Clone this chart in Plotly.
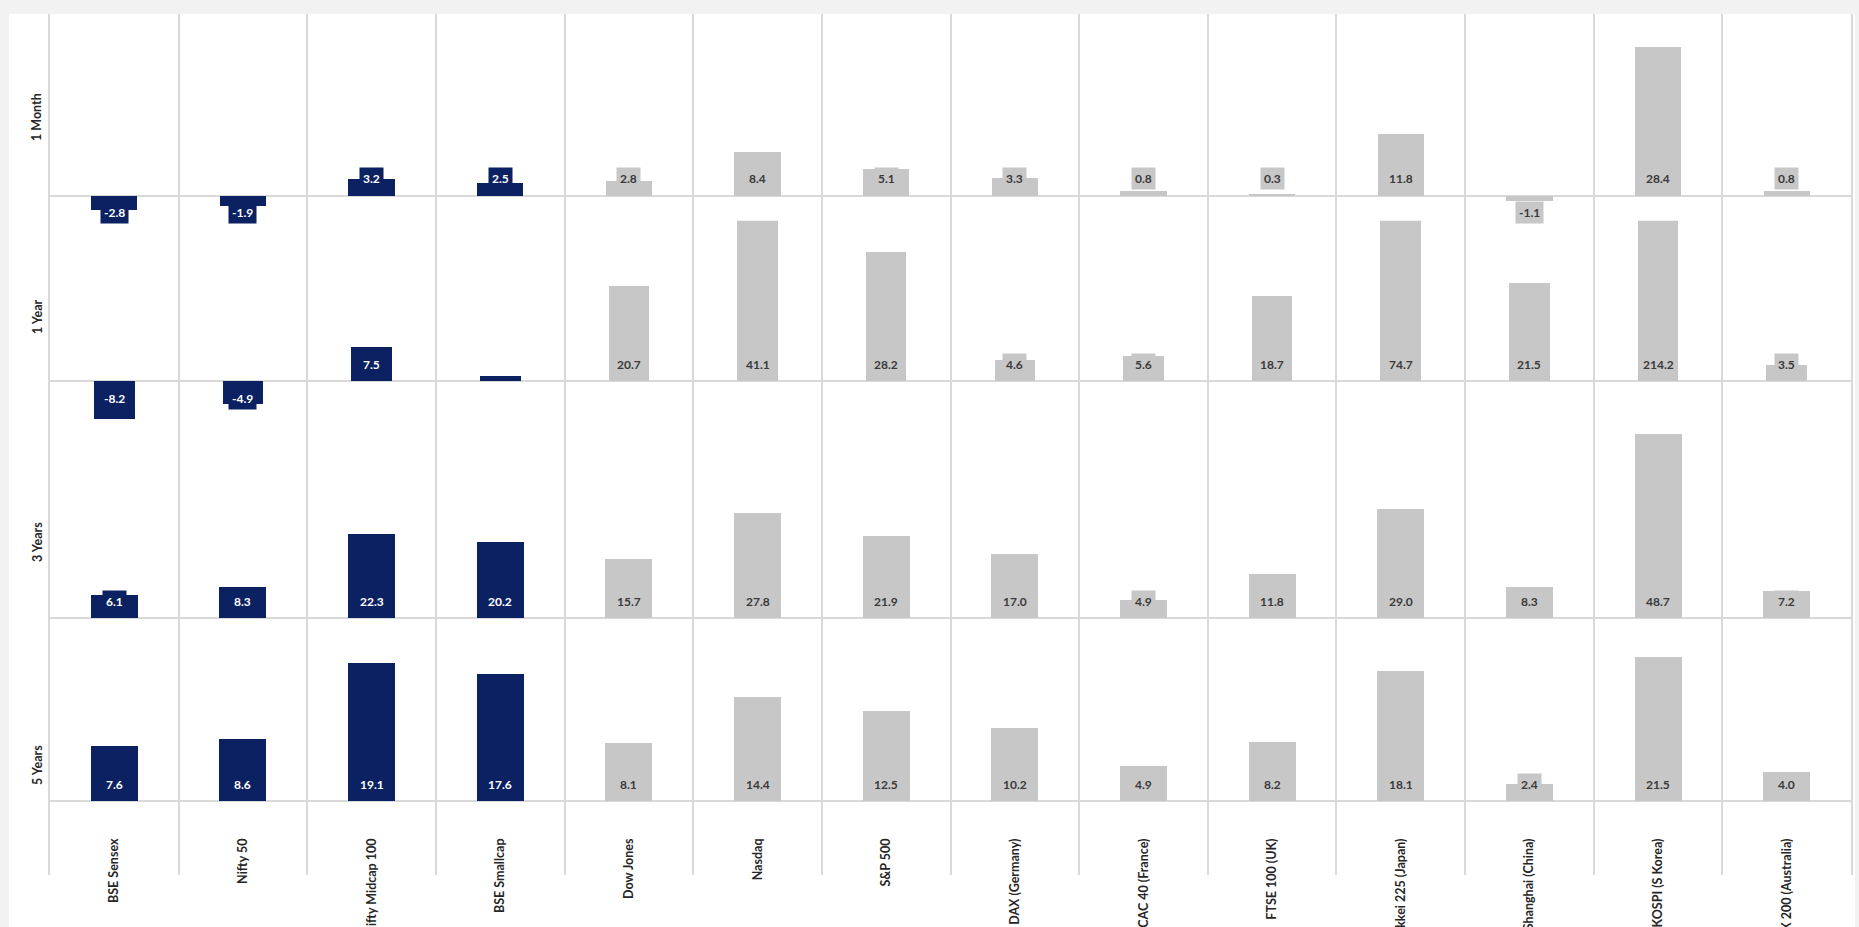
import plotly.graph_objects as go

# ---------------- data ----------------
indices = ["BSE Sensex", "Nifty 50", "Nifty Midcap 100", "BSE Smallcap", "Dow Jones",
           "Nasdaq", "S&P 500", "DAX (Germany)", "CAC 40 (France)", "FTSE 100 (UK)",
           "Nikkei 225 (Japan)", "Shanghai (China)", "KOSPI (S Korea)", "ASX 200 (Australia)"]
periods = ["1 Month", "1 Year", "3 Years", "5 Years"]
ret_1m = [-2.8, -1.9, 3.2, 2.5, 2.8, 8.4, 5.1, 3.3, 0.8, 0.3, 11.8, -1.1, 28.4, 0.8]
ret_1y = [-8.2, -4.9, 7.5, 1.1, 20.7, 41.1, 28.2, 4.6, 5.6, 18.7, 74.7, 21.5, 214.2, 3.5]
ret_3y = [6.1, 8.3, 22.3, 20.2, 15.7, 27.8, 21.9, 17.0, 4.9, 11.8, 29.0, 8.3, 48.7, 7.2]
ret_5y = [7.6, 8.6, 19.1, 17.6, 8.1, 14.4, 12.5, 10.2, 4.9, 8.2, 18.1, 2.4, 21.5, 4.0]
is_indian = [True, True, True, True] + [False] * 10
hidden_labels = {("1 Year", "BSE Smallcap")}

series = [ret_1m, ret_1y, ret_3y, ret_5y]

# ---------------- style / layout ----------------
W, H = 1859, 927
NAVY = "#0b2161"
GREY = "#c7c7c7"
LINE = "#d9d9d9"
FONT = "Lato"

X0, X1 = 50, 1851          # plot columns, px
FRAME_TOP, FRAME_BOT = 14, 875
# per row: pixel top/bottom of the y-domain, y-range, bar width
rows = [
    dict(top=39.4, bottom=222.1, rng=[-5, 30], bw=0.36, label_y=117),
    dict(top=220.7, bottom=426.8, rng=[-10, 35], bw=0.315, label_y=317),
    dict(top=428.5, bottom=618.0, rng=[0, 50], bw=0.365, label_y=542),
    dict(top=657.0, bottom=801.0, rng=[0, 20], bw=0.365, label_y=765),
]


def fy(px):
    return 1 - px / H


def fx(px):
    return px / W


fig = go.Figure()
layout = dict(
    width=W, height=H, margin=dict(l=0, r=0, t=0, b=0),
    paper_bgcolor="#f2f2f2", plot_bgcolor="rgba(0,0,0,0)",
    showlegend=False, bargap=0,
    font=dict(family=FONT, color="#262626"),
)

colors = [NAVY if f else GREY for f in is_indian]
txtcolors = ["#ffffff" if f else "#3a3a3a" for f in is_indian]
annotations = []

for i, (period, vals, g) in enumerate(zip(periods, series, rows), start=1):
    xa = f"x{i}" if i > 1 else "x"
    ya = f"y{i}" if i > 1 else "y"
    fig.add_trace(go.Bar(
        x=indices, y=vals, width=g["bw"], marker=dict(color=colors, line=dict(width=0)),
        xaxis=xa, yaxis=ya, hoverinfo="x+y",
    ))
    layout[f"xaxis{i if i > 1 else ''}"] = dict(
        domain=[fx(X0), fx(X1)], anchor=ya, type="category",
        categoryorder="array", categoryarray=indices, range=[-0.5, len(indices) - 0.5],
        showgrid=False, zeroline=False, showline=False, ticks="",
        showticklabels=(i == 4), tickangle=-90,
        tickfont=dict(family=FONT, size=12.5, color="#262626", weight="bold"),
        ticklabelstandoff=34, automargin=False, fixedrange=True,
    )
    layout[f"yaxis{i if i > 1 else ''}"] = dict(
        domain=[fy(g["bottom"]), fy(g["top"])], anchor=xa, range=g["rng"],
        showgrid=False, showticklabels=False, ticks="", showline=False,
        zeroline=True, zerolinecolor=LINE, zerolinewidth=2, fixedrange=True,
    )
    for name, v, c, tc in zip(indices, vals, colors, txtcolors):
        if (period, name) in hidden_labels:
            continue
        annotations.append(dict(
            xref=xa, yref=ya, x=name, y=0, text=f"{v:.1f}", showarrow=False,
            yshift=17 if v >= 0 else -17, yanchor="middle", xanchor="center",
            bgcolor=c, borderpad=3,
            font=dict(family=FONT, size=12, color=tc, weight="bold"),
        ))
    annotations.append(dict(
        xref="paper", yref="paper", x=fx(37), y=fy(g["label_y"]), text=period,
        textangle=-90, showarrow=False, xanchor="center", yanchor="middle",
        font=dict(family=FONT, size=12.5, color="#262626", weight="bold"),
    ))

# frame axis: vertical separators between categories
boundaries = [k + 0.5 for k in range(len(indices) - 1)]
fig.add_trace(go.Scatter(x=[None], y=[None], xaxis="x5", yaxis="y5", hoverinfo="skip"))
layout["xaxis5"] = dict(
    domain=[fx(X0), fx(X1)], anchor="y5", range=[-0.5, len(indices) - 0.5],
    tickvals=boundaries, showticklabels=False, ticks="", showgrid=True,
    gridcolor=LINE, gridwidth=1.5, zeroline=False, showline=False, fixedrange=True,
)
layout["yaxis5"] = dict(
    domain=[fy(FRAME_BOT), fy(FRAME_TOP)], anchor="x5", range=[0, 1],
    showgrid=False, showticklabels=False, ticks="", zeroline=False,
    showline=True, mirror=True, linecolor=LINE, linewidth=1.5, fixedrange=True,
)

layout["annotations"] = annotations
layout["shapes"] = [dict(
    type="rect", xref="paper", yref="paper", x0=fx(9), x1=fx(1855), y0=0, y1=fy(14),
    fillcolor="#ffffff", line=dict(width=0), layer="below",
)]

fig.update_layout(**layout)
fig.write_html("out.html")
